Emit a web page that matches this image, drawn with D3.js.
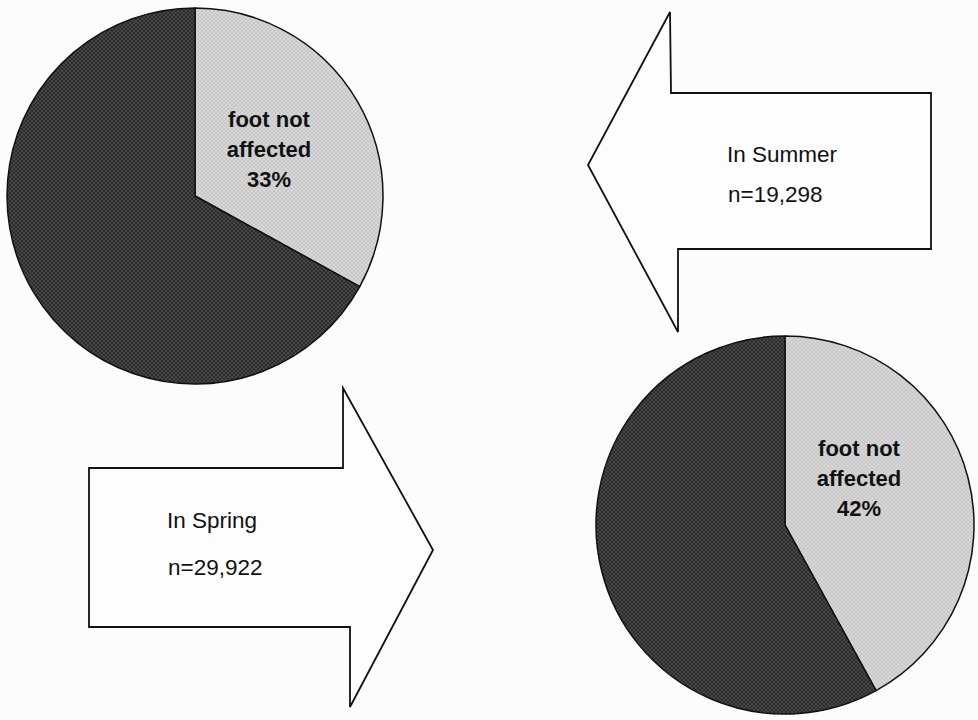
<!DOCTYPE html>
<html>
<head>
<meta charset="utf-8">
<script src="https://cdn.jsdelivr.net/npm/d3@7/dist/d3.min.js"></script>
<style>
  html, body { margin: 0; padding: 0; background: #fcfcfc; }
  svg { display: block; }
  text { font-family: "Liberation Sans", Arial, sans-serif; fill: #111; }
</style>
</head>
<body>
<svg id="chart" width="978" height="720"></svg>
<script>
// Share of observations where the foot was not affected, by season
const seasons = ["In Spring", "In Summer"];
const sampleSizes = ["n=29,922", "n=19,298"];
const notAffectedPct = [42, 33];
const sliceLabels = ["foot not", "affected"];

const svg = d3.select("#chart");

// Halftone-style fills for the two slices
const defs = svg.append("defs");
function halftone(id, base, dot) {
  const p = defs.append("pattern")
    .attr("id", id).attr("patternUnits", "userSpaceOnUse")
    .attr("width", 4).attr("height", 4);
  p.append("rect").attr("width", 4).attr("height", 4).attr("fill", base);
  p.append("rect").attr("x", 0).attr("y", 0).attr("width", 2).attr("height", 2).attr("fill", dot);
  p.append("rect").attr("x", 2).attr("y", 2).attr("width", 2).attr("height", 2).attr("fill", dot);
}
halftone("darkFill", "#2c2c2c", "#474747");
halftone("lightFill", "#d9d9d9", "#c6c6c6");

// Layout: each season gets a pie and an arrow pointing at it
const layout = [
  { cx: 785, cy: 525, r: 189 },   // spring
  { cx: 195, cy: 196, r: 188 }    // summer
];

const pie = d3.pie().sort(null).value(d => d);
const arc = d3.arc().innerRadius(0);

seasons.forEach((s, i) => {
  const L = layout[i];
  const values = [notAffectedPct[i], 100 - notAffectedPct[i]];
  const g = svg.append("g").attr("transform", `translate(${L.cx},${L.cy})`);
  g.selectAll("path")
    .data(pie(values))
    .join("path")
    .attr("d", d => arc.outerRadius(L.r)(d))
    .attr("fill", (d, j) => j === 0 ? "url(#lightFill)" : "url(#darkFill)")
    .attr("stroke", "#111")
    .attr("stroke-width", 1.5)
    .attr("stroke-linejoin", "round");

  const lines = sliceLabels.concat([notAffectedPct[i] + "%"]);
  g.append("text")
    .attr("text-anchor", "middle")
    .attr("font-weight", "bold")
    .attr("font-size", 22)
    .selectAll("tspan")
    .data(lines)
    .join("tspan")
    .attr("x", 74)
    .attr("y", (d, k) => -69 + k * 30)
    .text(d => d);
});

// Block arrows
const arrowShapes = [
  // spring: points right toward the lower pie
  [[89, 468], [343, 468], [343, 388], [433, 550], [350, 707], [350, 627], [89, 627]],
  // summer: points left toward the upper pie
  [[931, 93], [671, 93], [670, 12], [588, 165], [678, 332], [678, 249], [931, 249]]
];
const textPos = [
  { x: 167, y1: 528, y2: 575 },
  { x: 727, y1: 162, y2: 202 }
];
const line = d3.line();

seasons.forEach((s, i) => {
  svg.append("path")
    .attr("d", line(arrowShapes[i]) + "Z")
    .attr("fill", "#fdfdfd")
    .attr("stroke", "#111")
    .attr("stroke-width", 1.8)
    .attr("stroke-linejoin", "miter");
  const t = textPos[i];
  svg.append("text").attr("x", t.x).attr("y", t.y1)
    .attr("font-size", 22.5).text(s);
  svg.append("text").attr("x", t.x + 1).attr("y", t.y2)
    .attr("font-size", 22.5).text(sampleSizes[i]);
});
</script>
</body>
</html>
